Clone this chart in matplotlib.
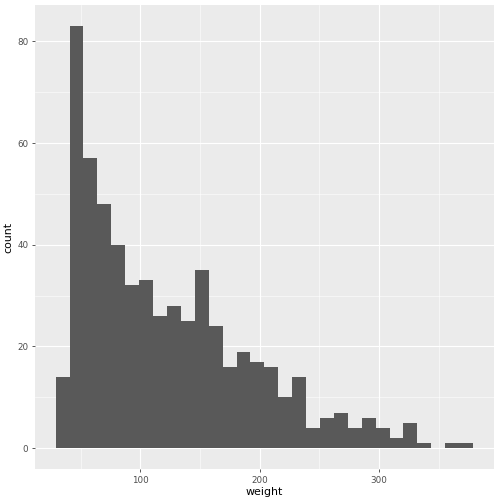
import matplotlib
matplotlib.use("Agg")
import matplotlib.pyplot as plt
import numpy as np

counts = [14, 83, 57, 48, 40, 32, 33, 26, 28, 25, 35, 24, 16, 19, 17, 16, 10, 14,
          4, 6, 7, 4, 6, 4, 2, 5, 1, 0, 1, 1]
wmin, wmax = 35, 373
xticks = [100, 200, 300]
yticks = [0, 20, 40, 60, 80]

n = len(counts)
bw = (wmax - wmin) / (n - 1)
lefts = wmin - bw / 2 + bw * np.arange(n)

fig = plt.figure(figsize=(7, 7), dpi=72)
ax = fig.add_axes([0.069, 0.069, 0.911, 0.921])
ax.set_facecolor("#EBEBEB")
ax.bar(lefts, counts, width=bw, align="edge", color="#595959", linewidth=0, zorder=3)
lo, hi = lefts[0], lefts[-1] + bw
ax.set_xlim(lo - 0.05 * (hi - lo), hi + 0.05 * (hi - lo))
ax.set_ylim(-0.05 * max(counts), 1.05 * max(counts))
ax.set_xticks(xticks)
ax.set_yticks(yticks)
ax.set_xticks([50, 150, 250, 350], minor=True)
ax.set_yticks([10, 30, 50, 70], minor=True)
ax.grid(which="major", color="white", linewidth=1.1, zorder=0)
ax.grid(which="minor", color="white", linewidth=0.55, zorder=0)
for s in ax.spines.values():
    s.set_visible(False)
ax.tick_params(which="major", colors="#333333", labelsize=8.8, length=3, width=0.8, color="#333333")
ax.tick_params(which="minor", length=0)
for t in ax.get_xticklabels() + ax.get_yticklabels():
    t.set_color("#4D4D4D")
ax.set_xlabel("weight", fontsize=11, labelpad=2)
ax.set_ylabel("count", fontsize=11, labelpad=4)
fig.savefig("out.png", dpi=72)
